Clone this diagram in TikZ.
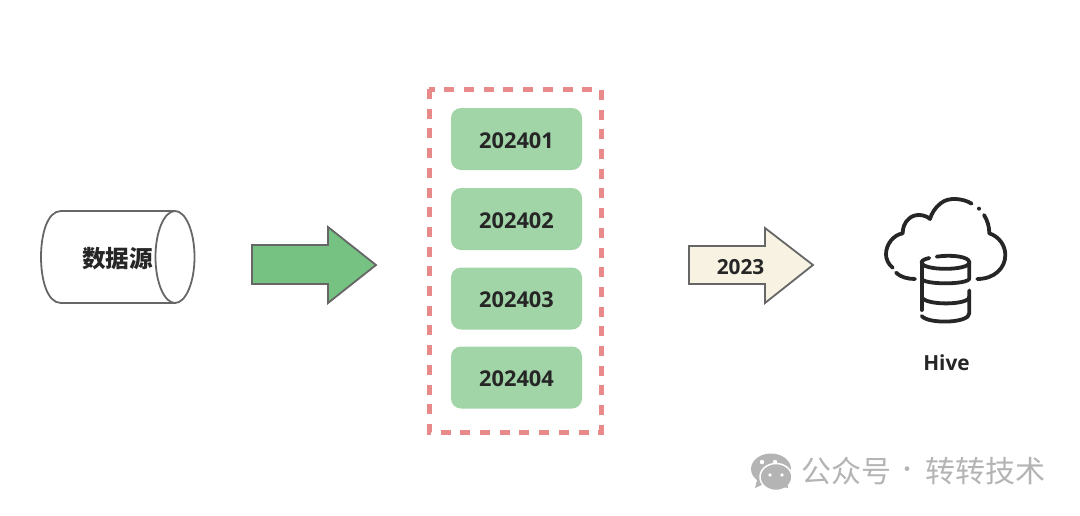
\documentclass[tikz,border=0pt]{standalone}
\usepackage{fontspec}
\setmainfont{Open Sans}
\newfontfamily\cjk{Noto Sans CJK SC}
\definecolor{boxgreen}{HTML}{A1D5A8}
\definecolor{dashred}{HTML}{E88A8A}
\definecolor{bigarrow}{HTML}{75C282}
\definecolor{cream}{HTML}{F7F2E1}
\definecolor{edgegray}{HTML}{666666}
\definecolor{inkdark}{HTML}{262626}
\definecolor{wmgray}{HTML}{B4B4B4}
\tikzset{
  monthbox/.style={fill=boxgreen,rounded corners=10pt,minimum width=131pt,minimum height=62pt,inner sep=0pt,text=inkdark,text height=18pt,text depth=0pt,font=\fontsize{21.8}{22}\selectfont\bfseries},
  arrowshape/.style={draw=edgegray,line width=1.8pt,line join=miter},
  icon/.style={draw=inkdark,line width=3.8pt,line cap=round,line join=round},
  label/.style={text=inkdark,inner sep=0pt,font=\fontsize{20.8}{21}\selectfont\bfseries},
  wmtext/.style={text=wmgray,inner sep=0pt,font=\cjk\fontsize{30}{30}\selectfont}
}
\begin{document}
\begin{tikzpicture}[x=1pt,y=-1pt]
\useasboundingbox (0,0) rectangle (1080,515);
% cylinder
\draw[draw=edgegray,line width=1.8pt] (175,211) -- (61,211) .. controls (47,211) and (41,235) .. (41,257) .. controls (41,279) and (47,303) .. (61,303) -- (175,303);
\draw[draw=edgegray,line width=1.8pt] (175,257) ellipse [x radius=19.5,y radius=46];
\node[inner sep=0pt,text=inkdark] (src) at (117.5,259) {\cjk\fontsize{23.6}{24}\selectfont\bfseries 数据源};
% big arrow
\draw[arrowshape,fill=bigarrow] (252,245) -- (328,245) -- (328,227) -- (376,265) -- (328,303) -- (328,284) -- (252,284) -- cycle;
% dashed frame
\draw[draw=dashred,line width=5pt,dash pattern=on 10pt off 9.7pt] (429,89) rectangle (601,432);
% months
\node[monthbox] (m1) at (516.5,139) {202401};
\node[monthbox] (m2) at (516.5,219) {202402};
\node[monthbox] (m3) at (516.5,298.5) {202403};
\node[monthbox] (m4) at (516.5,377.5) {202404};
% small arrow
\draw[arrowshape,fill=cream] (689,246) -- (765,246) -- (765,228) -- (813,265) -- (765,303) -- (765,284) -- (689,284) -- cycle;
\node[label] (yr) at (740.5,267.5) {2023};
% hive icon (coordinates from a 3x view)
\begin{scope}[shift={(870,185)},x=0.3333pt,y=-0.3333pt,icon]
\draw (305,56) .. controls (280,40) and (235,35) .. (212,55) .. controls (195,68) and (185,85) .. (180,102) .. controls (165,88) and (135,85) .. (118,100) .. controls (103,112) and (98,130) .. (98,145) .. controls (70,150) and (48,178) .. (48,208) .. controls (48,222) and (55,238) .. (68,248);
\draw (78,263) .. controls (92,277) and (115,282) .. (135,282);
\fill[inkdark] (327,71) circle (6);
\draw (342,90) .. controls (352,105) and (358,125) .. (358,145) .. controls (388,155) and (406,182) .. (406,210) .. controls (406,250) and (372,282) .. (322,282);
\draw (200,215) .. controls (245,208) and (298,215) .. (298,232) -- (298,280) .. controls (298,300) and (155,300) .. (155,280);
\draw (298,232) .. controls (298,258) and (155,258) .. (155,232) .. controls (155,226) and (165,222) .. (178,219);
\draw (155,232) -- (155,375);
\draw (155,335) .. controls (160,362) and (298,362) .. (298,335);
\draw (298,316) -- (298,385) .. controls (298,415) and (175,418) .. (155,393);
\end{scope}
\node[label] (hive) at (946.5,362.5) {Hive};
% watermark
\fill[wmgray] (771,469) ellipse [x radius=20,y radius=15.5];
\fill[wmgray] (757,480) -- (755,488) -- (766,483) -- cycle;
\draw[white,line width=1.5pt,fill=wmgray] (776,477) ellipse [x radius=16,y radius=13.5];
\fill[wmgray] (783,487) -- (788,488) -- (787,482) -- cycle;
\fill[white] (762,462) circle (2.2) (775,462) circle (2.2) (770,475) circle (1.9) (782,475) circle (1.9);
\node[wmtext,anchor=west] (wm1) at (801,471) {公众号};
\node[wmtext,font=\cjk\fontsize{22}{22}\selectfont] (wm2) at (907,472) {·};
\node[wmtext,anchor=west] (wm3) at (925,471) {转转技术};
\end{tikzpicture}
\end{document}
